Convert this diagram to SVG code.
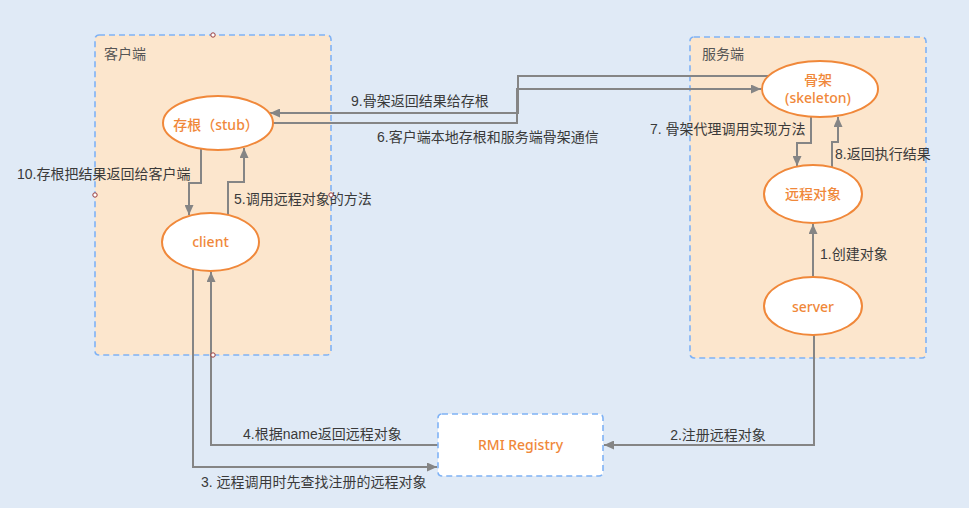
<svg xmlns="http://www.w3.org/2000/svg" width="969" height="508" viewBox="0 0 969 508">
<defs>
<marker id="arr" markerUnits="userSpaceOnUse" markerWidth="11" markerHeight="9" refX="10" refY="4.5" orient="auto">
<path d="M0,0 L10,4.5 L0,9 z" fill="#858585"/>
</marker>
<style>
.bg{fill:#e0eaf6}
.cont{fill:#fce6cd;stroke:#7fb2f5;stroke-width:1.6;stroke-dasharray:6 4}
.reg{fill:#ffffff;stroke:#7fb2f5;stroke-width:1.6;stroke-dasharray:6 4}
.node{fill:#ffffff;stroke:#f0883a;stroke-width:2}
.nt{font-family:"Noto Sans","Noto Sans CJK SC",sans-serif;font-size:14px;font-weight:500;fill:#f0883a;text-anchor:middle}
.ct{font-family:"Liberation Sans","Noto Sans CJK SC",sans-serif;font-size:14px;fill:#555555}
.lb{font-family:"Liberation Sans","Noto Sans CJK SC",sans-serif;font-size:14px;fill:#3a3a3a}
.ed{fill:none;stroke:#858585;stroke-width:2;marker-end:url(#arr)}
.hd{fill:#ffffff;stroke:#9b3b3b;stroke-width:1}
</style>
</defs>
<rect class="bg" x="0" y="0" width="969" height="508"/>

<g id="client-side">
<rect class="cont" x="95" y="35" width="236" height="320" rx="4"/>
<text class="ct" x="104" y="59">客户端</text>
</g>
<g id="server-side">
<rect class="cont" x="690" y="37" width="236" height="321" rx="4"/>
<text class="ct" x="702" y="59">服务端</text>
</g>

<g id="connectors">
<path class="ed" d="M813,277 L813,224"/>
<path class="ed" d="M814,335 L814,445 L604,445"/>
<path class="ed" d="M193,269 L193,467 L437,467"/>
<path class="ed" d="M438,445 L211,445 L211,272"/>
<path class="ed" d="M228,215 L228,182 L244,182 L244,148"/>
<path class="ed" d="M273,123 L517,123 L517,89 L761,89"/>
<path class="ed" d="M811,117 L811,143 L797,143 L797,166"/>
<path class="ed" d="M832,167 L832,142 L838,142 L838,117"/>
<path class="ed" d="M768,76 L518,76 L518,113 L270,113"/>
<path class="ed" d="M201,149 L201,183 L189,183 L189,215"/>
<text class="lb" x="820" y="259">1.创建对象</text>
<text class="lb" x="718" y="440" text-anchor="middle">2.注册远程对象</text>
<text class="lb" x="201" y="487">3. 远程调用时先查找注册的远程对象</text>
<text class="lb" x="243" y="439">4.根据name返回远程对象</text>
<text class="lb" x="234" y="204">5.调用远程对象的方法</text>
<text class="lb" x="377" y="142">6.客户端本地存根和服务端骨架通信</text>
<text class="lb" x="650" y="134">7. 骨架代理调用实现方法</text>
<text class="lb" x="835" y="159">8.返回执行结果</text>
<text class="lb" x="351" y="106">9.骨架返回结果给存根</text>
<text class="lb" x="17" y="179">10.存根把结果返回给客户端</text>
</g>

<g id="stub">
<ellipse class="node" cx="218" cy="123" rx="55" ry="27"/>
<text class="nt" x="216" y="130">存根（stub）</text>
</g>
<g id="client">
<ellipse class="node" cx="210.5" cy="242" rx="48.5" ry="29"/>
<text class="nt" x="210.5" y="247">client</text>
</g>
<g id="skeleton">
<ellipse class="node" cx="820" cy="89" rx="58" ry="28"/>
<text class="nt" x="818" y="85">骨架</text>
<text class="nt" x="818" y="103">(skeleton)</text>
</g>
<g id="remote-object">
<ellipse class="node" cx="813" cy="194" rx="49" ry="29"/>
<text class="nt" x="813" y="199">远程对象</text>
</g>
<g id="server">
<ellipse class="node" cx="813" cy="306" rx="49" ry="29"/>
<text class="nt" x="813" y="312">server</text>
</g>
<g id="rmi-registry">
<rect class="reg" x="438" y="414" width="165" height="62" rx="4"/>
<text class="nt" x="520.5" y="450">RMI Registry</text>
</g>

<g id="handles">
<circle class="hd" cx="213" cy="35" r="2.2"/>
<circle class="hd" cx="95" cy="195" r="2.2"/>
<circle class="hd" cx="331" cy="195" r="2.2"/>
<circle class="hd" cx="213" cy="355" r="2.2"/>
</g>
</svg>
